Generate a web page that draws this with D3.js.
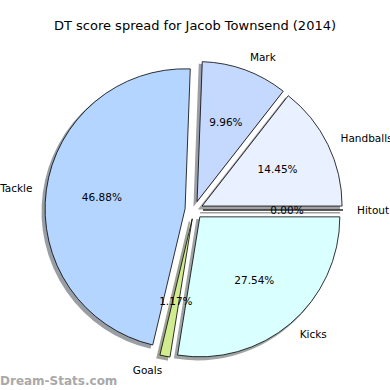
<!DOCTYPE html>
<html>
<head>
    <meta charset="utf-8">
    <title>DT score spread</title>
    <script src="https://cdn.jsdelivr.net/npm/d3@7/dist/d3.min.js"></script>
    <style>
        body { margin: 0; background: #fff; }
        text { font-family: "DejaVu Sans", sans-serif; fill: #000; }
        .title { font-size: 13px; }
        .lbl, .pct { font-size: 10.5px; }
        .wm { font-size: 12px; fill: #a9a9a9; font-weight: bold; }
    </style>
</head>
<body>
<div id="vis"></div>
<script>

    // data, in the order the wedges go round (counter-clockwise from 3 o'clock)
    var categories = ["Hitout", "Handballs", "Mark", "Tackle", "Goals", "Kicks"];
    var shares = [0.00, 14.45, 9.96, 46.88, 1.17, 27.54];
    var colours = ["#e6e6e6", "#e9f0ff", "#c5d9ff", "#b4d5ff", "#d1eb8f", "#d9ffff"];

    var width = 390, height = 390;
    var cx = 194, cy = 210, r = 140,
        explode = 9;   // px each wedge is pushed out

    var svg = d3.select("#vis").append("svg")
            .attr("width", width)
            .attr("height", height);

    svg.append("text").attr("class", "title")
            .attr("x", 195).attr("y", 30)
            .attr("text-anchor", "middle")
            .text("DT score spread for Jacob Townsend (2014)");

    var rows = categories.map(function(c, i){ return {name: c, value: shares[i], color: colours[i]}; });

    // d3 angles run clockwise from 12 o'clock, so start at 3 o'clock and go negative
    var pie = d3.pie().sort(null).value(function(d){ return d.value; })
            .startAngle(Math.PI / 2).endAngle(Math.PI / 2 - 2 * Math.PI);
    var arcs = pie(rows);

    var arc = d3.arc().innerRadius(0).outerRadius(r);

    function mid(d){ return (d.startAngle + d.endAngle) / 2; }
    function polar(a, dist){ return [dist * Math.sin(a), -dist * Math.cos(a)]; }

    var g = svg.append("g").attr("transform", "translate(" + cx + "," + cy + ")");

    // shadows first
    g.selectAll(".shadow").data(arcs).enter().append("path")
            .attr("class", "shadow")
            .attr("d", arc)
            .attr("transform", function(d){
                var p = polar(mid(d), explode);
                return "translate(" + (p[0] - 2.8) + "," + (p[1] + 2.8) + ")";
            })
            .style("fill", function(d){ var c = d3.rgb(d.data.color); return d3.rgb(c.r * 0.3, c.g * 0.3, c.b * 0.3); })
            .style("stroke", function(d){ var c = d3.rgb(d.data.color); return d3.rgb(c.r * 0.3, c.g * 0.3, c.b * 0.3); })
            .style("stroke-width", 1.5)
            .style("opacity", 0.5);

    g.selectAll(".wedge").data(arcs).enter().append("path")
            .attr("class", "wedge")
            .attr("d", arc)
            .attr("transform", function(d){
                var p = polar(mid(d), explode);
                return "translate(" + p[0] + "," + p[1] + ")";
            })
            .style("fill", function(d){ return d.data.color; })
            .style("stroke", "#000")
            .style("stroke-width", 0.8)
            .style("stroke-linejoin", "round");

    // category labels
    g.selectAll(".lbl").data(arcs).enter().append("text")
            .attr("class", "lbl")
            .attr("x", function(d){ return polar(mid(d), explode + 1.1 * r)[0]; })
            .attr("y", function(d){ return polar(mid(d), explode + 1.1 * r)[1]; })
            .attr("dy", "0.35em")
            .attr("text-anchor", function(d){ return polar(mid(d), 1)[0] > 0 ? "start" : "end"; })
            .text(function(d){ return d.data.name; });

    // percentages
    g.selectAll(".pct").data(arcs).enter().append("text")
            .attr("class", "pct")
            .attr("x", function(d){ return polar(mid(d), explode + 0.6 * r)[0]; })
            .attr("y", function(d){ return polar(mid(d), explode + 0.6 * r)[1]; })
            .attr("dy", "0.35em")
            .attr("text-anchor", "middle")
            .text(function(d){ return d.data.value.toFixed(2) + "%"; });

    svg.append("text").attr("class", "wm")
            .attr("x", 0).attr("y", 385)
            .text("Dream-Stats.com");

</script>
</body>
</html>
